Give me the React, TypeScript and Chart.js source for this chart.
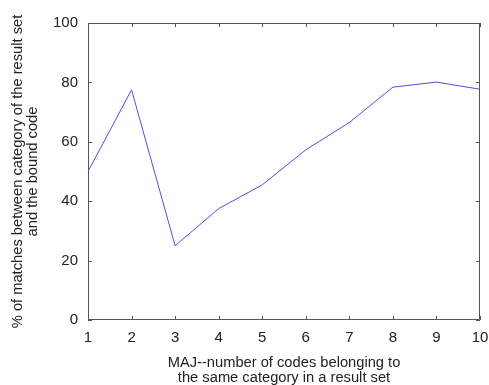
import React, { useEffect, useRef } from "react";
import { Chart, registerables } from "chart.js";

Chart.register(...registerables);

const categories = [1, 2, 3, 4, 5, 6, 7, 8, 9, 10];
const matchPercent = [50, 77.5, 25, 37.5, 45.5, 57.3, 66.5, 78.4, 80.1, 77.7];
const yTicks = [0, 20, 40, 60, 80, 100];

const xTitle = ["MAJ--number of codes belonging to", "the same category in a result set"];
const yTitle = ["% of matches between category of the result set", "and the bound code"];

const FONT = "'Liberation Sans', Arial, sans-serif";

const framePlugin = {
  id: "frame",
  afterDraw(chart: any) {
    const { ctx, chartArea } = chart;
    const { left, right, top, bottom } = chartArea;
    const xs = chart.scales.x;
    const ys = chart.scales.y;
    const len = 4;
    ctx.save();
    ctx.strokeStyle = "#555555";
    ctx.lineWidth = 1;
    ctx.beginPath();
    ctx.rect(left + 0.5, top + 0.5, right - left - 1, bottom - top - 1);
    ctx.stroke();
    ctx.beginPath();
    categories.forEach((c) => {
      const px = Math.round(xs.getPixelForValue(c)) + 0.5;
      ctx.moveTo(px, bottom);
      ctx.lineTo(px, bottom - len);
      ctx.moveTo(px, top);
      ctx.lineTo(px, top + len);
    });
    yTicks.forEach((v) => {
      const py = Math.round(ys.getPixelForValue(v)) + 0.5;
      ctx.moveTo(left, py);
      ctx.lineTo(left + len, py);
      ctx.moveTo(right, py);
      ctx.lineTo(right - len, py);
    });
    ctx.stroke();
    ctx.restore();
  },
};

export default function App() {
  const ref = useRef<HTMLCanvasElement | null>(null);

  useEffect(() => {
    if (!ref.current) return;
    const chart = new Chart(ref.current, {
      type: "line",
      data: {
        datasets: [
          {
            data: categories.map((c, i) => ({ x: c, y: matchPercent[i] })),
            borderColor: "#4f4fd8",
            borderWidth: 1,
            pointRadius: 0,
            tension: 0,
            fill: false,
          },
        ],
      },
      options: {
        animation: false,
        responsive: false,
        layout: { padding: { top: 23, right: 9, left: 0, bottom: 0 } },
        plugins: { legend: { display: false }, tooltip: { enabled: false } },
        scales: {
          x: {
            type: "linear",
            min: 1,
            max: 10,
            afterFit: (s: any) => {
              s.height = 65;
              s.paddingRight = 0;
              s.paddingLeft = 0;
            },
            grid: { display: false, drawTicks: false },
            border: { display: false },
            ticks: {
              stepSize: 1,
              padding: 9,
              color: "#222222",
              font: { family: FONT, size: 15 },
            },
            title: {
              display: true,
              text: xTitle,
              color: "#222222",
              font: { family: FONT, size: 14.7, lineHeight: "15px" },
              padding: { top: 0, bottom: 0 },
            },
          },
          y: {
            min: 0,
            max: 100,
            afterFit: (s: any) => {
              s.width = 88;
              s.paddingTop = 0;
              s.paddingBottom = 0;
            },
            grid: { display: false, drawTicks: false },
            border: { display: false },
            ticks: {
              stepSize: 20,
              padding: 10,
              color: "#222222",
              font: { family: FONT, size: 15 },
            },
            title: {
              display: true,
              text: yTitle,
              color: "#222222",
              font: { family: FONT, size: 14.7, lineHeight: "15px" },
              padding: { top: 10, bottom: 0 },
            },
          },
        },
      },
      plugins: [framePlugin],
    } as any);
    return () => chart.destroy();
  }, []);

  return (
    <div style={{ position: "absolute", left: 0, top: 0, width: 489, height: 385, background: "#fff" }}>
      <canvas ref={ref} width={489} height={385} style={{ display: "block" }} />
    </div>
  );
}
